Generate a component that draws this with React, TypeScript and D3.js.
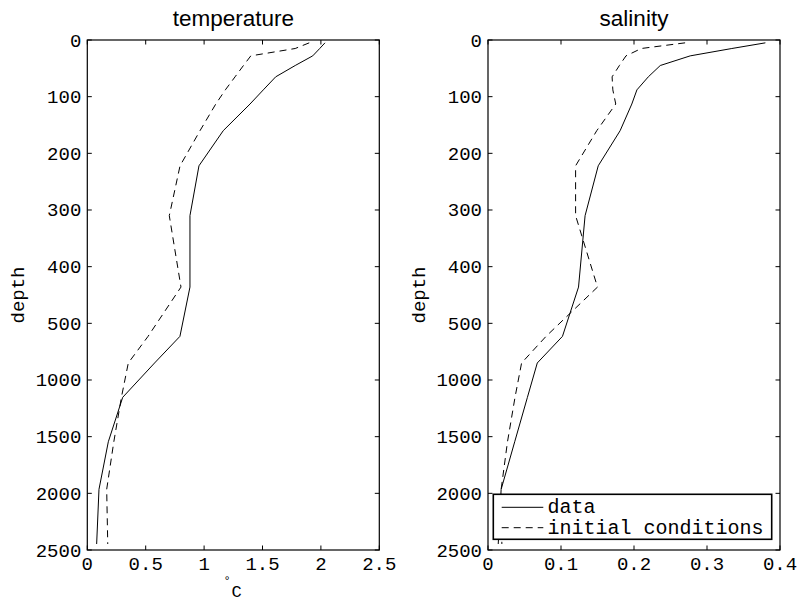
import React from "react";
import * as d3 from "d3";

const depths = [5, 15, 28, 45, 65, 88, 113, 160, 222, 310, 436, 615, 850, 1153, 1545, 1965, 2447];
const tempData = [2.035, 1.99, 1.93, 1.78, 1.613, 1.507, 1.393, 1.164, 0.956, 0.879, 0.879, 0.793, 0.576, 0.303, 0.18, 0.1, 0.08];
const tempInit = [1.9, 1.78, 1.4, 1.337, 1.265, 1.182, 1.1, 0.965, 0.794, 0.702, 0.802, 0.52, 0.351, 0.292, 0.227, 0.166, 0.175];
const saltData = [0.38, 0.334, 0.277, 0.236, 0.2196, 0.204, 0.197, 0.181, 0.151, 0.133, 0.124, 0.102, 0.0675, 0.054, 0.0366, 0.018, 0.014];
const saltInit = [0.27, 0.21, 0.189, 0.18, 0.17, 0.171, 0.175, 0.149, 0.12, 0.12, 0.15, 0.0795, 0.046, 0.037, 0.0267, 0.018, 0.019];

const depthTicks = [0, 100, 200, 300, 400, 500, 1000, 1500, 2000, 2500];
const tempTicks = [0, 0.5, 1, 1.5, 2, 2.5];
const saltTicks = [0, 0.1, 0.2, 0.3, 0.4];
const legendLabels = ["data", "initial conditions"];

const MONO = "'Liberation Mono', 'DejaVu Sans Mono', monospace";
const SANS = "'Liberation Sans', Arial, sans-serif";
const DASH = "7,5";

const TOP = 40;
const BOTTOM = 550;
const yScale = d3.scaleLinear().domain([0, 500, 2500]).range([TOP, 323.33, BOTTOM]);

function fmt(v: number) {
  return String(v);
}

type PanelProps = {
  x0: number;
  x1: number;
  domain: [number, number];
  xTicks: number[];
  data: number[];
  init: number[];
  title: string;
  xLabel?: boolean;
  legend?: boolean;
};

function Panel({ x0, x1, domain, xTicks, data, init, title, xLabel, legend }: PanelProps) {
  const xScale = d3.scaleLinear().domain(domain).range([x0, x1]);
  const line = d3
    .line<number>()
    .x((v) => xScale(v))
    .y((_, i) => yScale(depths[i]));
  const tl = 4.5;
  return (
    <g>
      <text x={(x0 + x1) / 2} y={26} textAnchor="middle" fontFamily={SANS} fontSize={22.5} fill="#000">
        {title}
      </text>
      <text
        transform={`translate(${x0 - 63},${(TOP + BOTTOM) / 2}) rotate(-90)`}
        textAnchor="middle"
        fontFamily={MONO}
        fontSize={19}
        fill="#000"
      >
        depth
      </text>
      <path d={line(init) || ""} fill="none" stroke="#000" strokeWidth={1} strokeDasharray={DASH} />
      <path d={line(data) || ""} fill="none" stroke="#000" strokeWidth={1} />
      <rect x={x0} y={TOP} width={x1 - x0} height={BOTTOM - TOP} fill="none" stroke="#000" strokeWidth={1.2} />
      {depthTicks.map((t) => {
        const y = yScale(t);
        return (
          <g key={"y" + t}>
            <line x1={x0} x2={x0 + tl} y1={y} y2={y} stroke="#000" />
            <line x1={x1} x2={x1 - tl} y1={y} y2={y} stroke="#000" />
            <text x={x0 - 6} y={y + 1.5} textAnchor="end" dominantBaseline="central" fontFamily={MONO} fontSize={19} fill="#000">
              {t}
            </text>
          </g>
        );
      })}
      {xTicks.map((t) => {
        const x = xScale(t);
        return (
          <g key={"x" + t}>
            <line x1={x} x2={x} y1={BOTTOM} y2={BOTTOM - tl} stroke="#000" />
            <line x1={x} x2={x} y1={TOP} y2={TOP + tl} stroke="#000" />
            <text x={x} y={570} textAnchor="middle" fontFamily={MONO} fontSize={19} fill="#000">
              {fmt(t)}
            </text>
          </g>
        );
      })}
      {xLabel && (
        <g>
          <text x={227} y={585} textAnchor="middle" fontFamily={MONO} fontSize={12} fill="#000">
            °
          </text>
          <text x={236.5} y={597} textAnchor="middle" fontFamily={MONO} fontSize={17} fill="#000">
            C
          </text>
        </g>
      )}
      {legend && (
        <g>
          <rect x={493.3} y={494.3} width={278.4} height={45} fill="#fff" stroke="#000" strokeWidth={1.6} />
          <line x1={501.7} x2={543.3} y1={507.3} y2={507.3} stroke="#000" strokeWidth={1} />
          <line x1={501.7} x2={543.3} y1={527.7} y2={527.7} stroke="#000" strokeWidth={1} strokeDasharray={DASH} />
          <text x={547.5} y={513.3} fontFamily={MONO} fontSize={20} fill="#000">
            {legendLabels[0]}
          </text>
          <text x={547.5} y={534} fontFamily={MONO} fontSize={20} fill="#000">
            {legendLabels[1]}
          </text>
        </g>
      )}
    </g>
  );
}

export default function App() {
  return (
    <svg
      width={801}
      height={603}
      style={{ position: "absolute", left: 0, top: 0, background: "#fff" }}
      xmlns="http://www.w3.org/2000/svg"
    >
      <rect x={0} y={0} width={801} height={603} fill="#fff" />
      <Panel
        x0={87.3}
        x1={379.3}
        domain={[0, 2.5]}
        xTicks={tempTicks}
        data={tempData}
        init={tempInit}
        title="temperature"
        xLabel
      />
      <Panel
        x0={488}
        x1={780}
        domain={[0, 0.4]}
        xTicks={saltTicks}
        data={saltData}
        init={saltInit}
        title="salinity"
        legend
      />
    </svg>
  );
}
